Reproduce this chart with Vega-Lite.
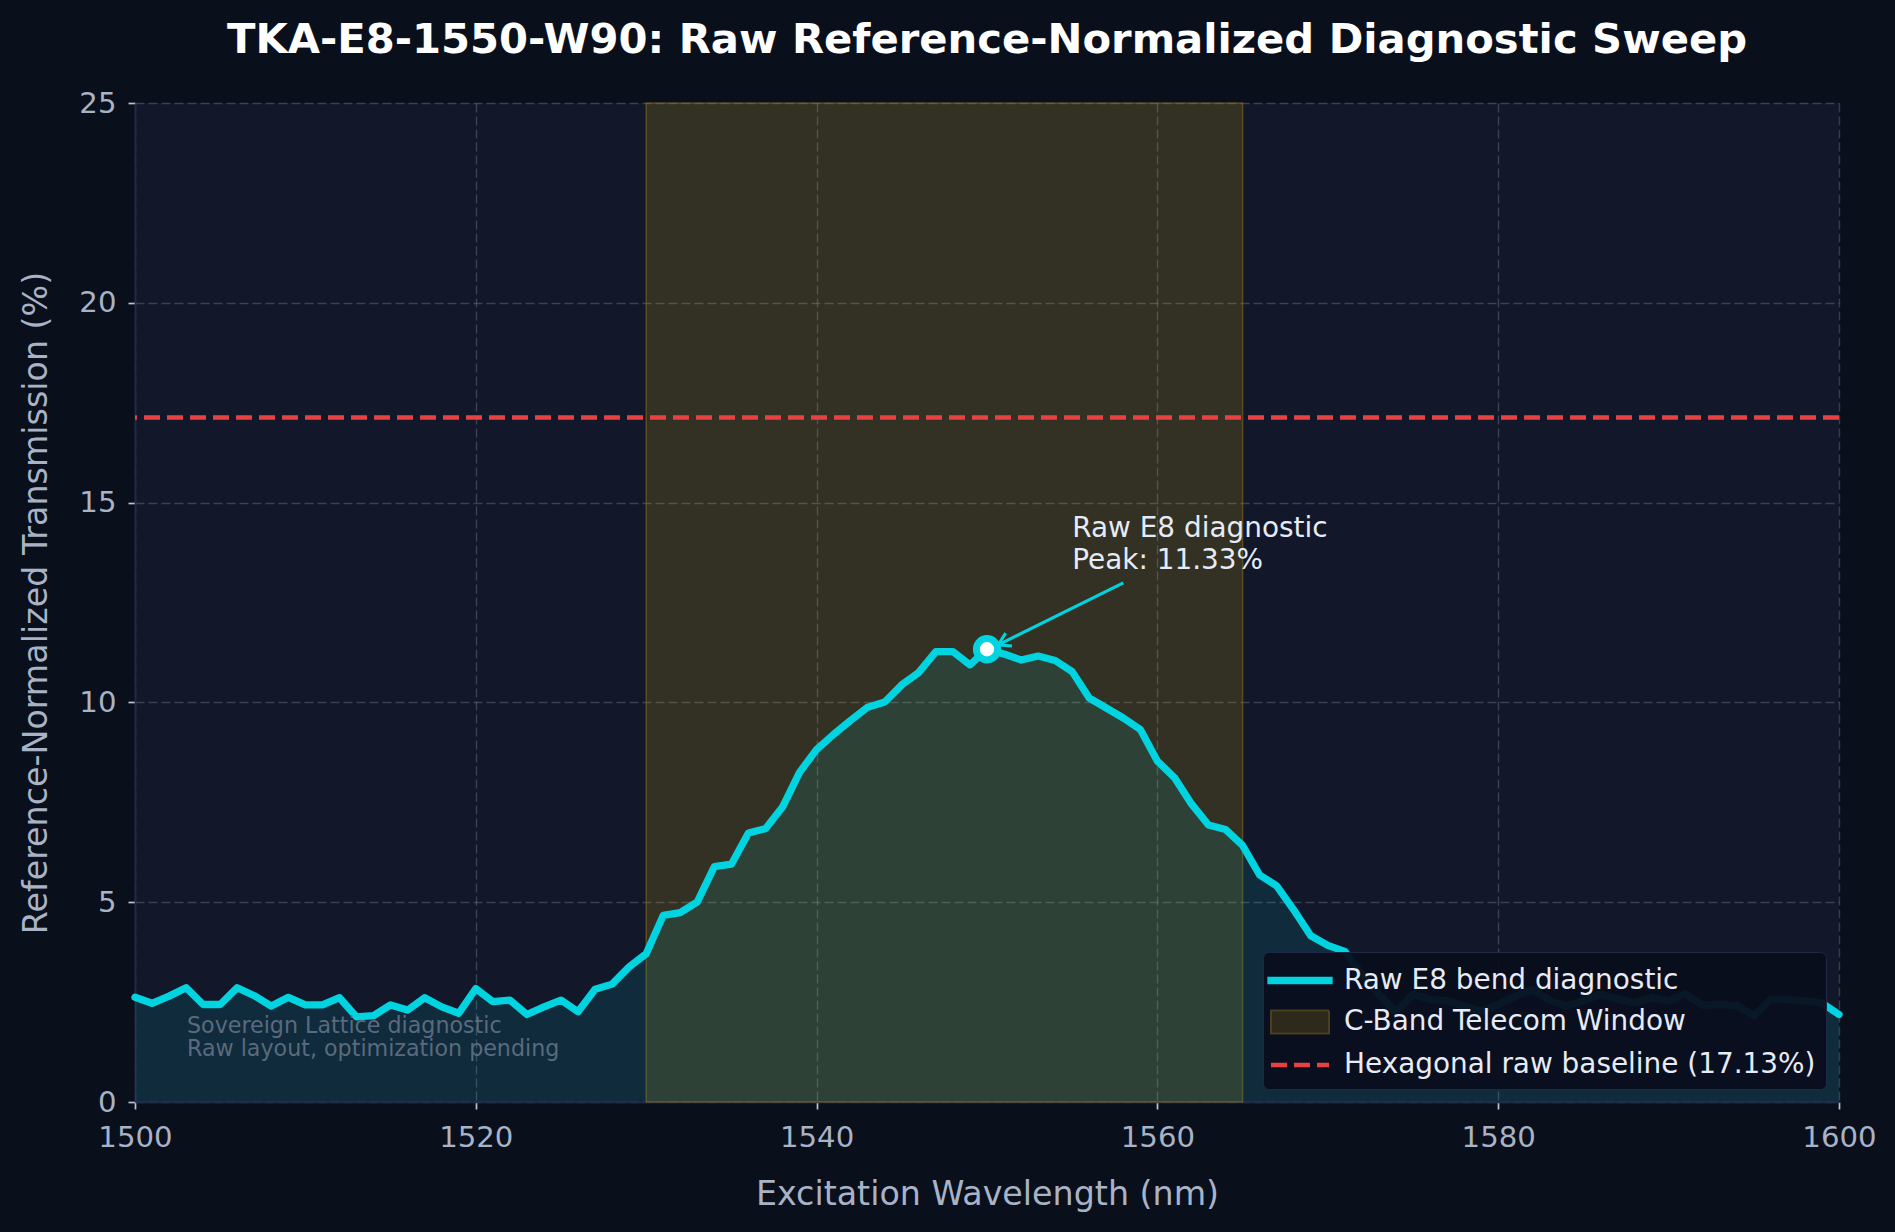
{
  "$schema": "https://vega.github.io/schema/vega-lite/v6.json",
  "width": 1704,
  "height": 999,
  "autosize": {"type": "none"},
  "padding": {"left": 135, "top": 103, "right": 56, "bottom": 130},
  "background": "#0a0f1c",
  "view": {"fill": "#121829", "stroke": null},
  "title": {"text": "TKA-E8-1550-W90: Raw Reference-Normalized Diagnostic Sweep", "font": "DejaVu Sans", "fontSize": 41.7, "fontWeight": "bold", "color": "#ffffff", "offset": 27.5, "anchor": "middle"},
  "config": {
    "font": "DejaVu Sans",
    "view": {"fill": "#121829", "stroke": null},
    "axis": {
      "labelFont": "DejaVu Sans", "labelFontSize": 29.2, "labelColor": "#a9b3c6",
      "titleFont": "DejaVu Sans", "titleFontSize": 33.3, "titleColor": "#a9b3c6", "titleFontWeight": "normal",
      "tickColor": "#b9c2d4", "tickSize": 7, "tickWidth": 1.7,
      "domainColor": "#1f2b48", "domainWidth": 1.7,
      "gridColor": "#8892a6", "gridOpacity": 0.35, "gridDash": [9, 4], "gridWidth": 1.4,
      "labelFlush": false, "labelOverlap": false
    },
    "axisX": {"labelPadding": 14, "titleBaseline": "alphabetic", "titleY": 102},
    "axisY": {"labelPadding": 12, "titleBaseline": "alphabetic", "titleX": -89, "titleY": 499.5},
    "legend": {
      "orient": "bottom-right",
      "offset": 13,
      "padding": 10,
      "fillColor": "rgba(10,14,28,0.95)",
      "strokeColor": "#1e2a45",
      "cornerRadius": 6,
      "labelFont": "DejaVu Sans",
      "labelFontSize": 27.9,
      "labelColor": "#e6ebf5",
      "labelOffset": 25.5,
      "labelLimit": 700,
      "rowPadding": 9.5,
      "symbolSize": 841,
      "symbolOffset": 8.5,
      "symbolOpacity": 1
    }
  },
  "datasets": {
    "sweep": [
      {"wl": 1500, "val": 2.62}, {"wl": 1501, "val": 2.47}, {"wl": 1502, "val": 2.65}, {"wl": 1503, "val": 2.86},
      {"wl": 1504, "val": 2.44}, {"wl": 1505, "val": 2.44}, {"wl": 1506, "val": 2.86}, {"wl": 1507, "val": 2.66},
      {"wl": 1508, "val": 2.40}, {"wl": 1509, "val": 2.62}, {"wl": 1510, "val": 2.43}, {"wl": 1511, "val": 2.43},
      {"wl": 1512, "val": 2.61}, {"wl": 1513, "val": 2.13}, {"wl": 1514, "val": 2.16}, {"wl": 1515, "val": 2.43},
      {"wl": 1516, "val": 2.30}, {"wl": 1517, "val": 2.61}, {"wl": 1518, "val": 2.38}, {"wl": 1519, "val": 2.22},
      {"wl": 1520, "val": 2.84}, {"wl": 1521, "val": 2.51}, {"wl": 1522, "val": 2.55}, {"wl": 1523, "val": 2.19},
      {"wl": 1524, "val": 2.38}, {"wl": 1525, "val": 2.55}, {"wl": 1526, "val": 2.26}, {"wl": 1527, "val": 2.82},
      {"wl": 1528, "val": 2.95}, {"wl": 1529, "val": 3.38}, {"wl": 1530, "val": 3.71}, {"wl": 1531, "val": 4.67},
      {"wl": 1532, "val": 4.74}, {"wl": 1533, "val": 5.01}, {"wl": 1534, "val": 5.89}, {"wl": 1535, "val": 5.95},
      {"wl": 1536, "val": 6.73}, {"wl": 1537, "val": 6.84}, {"wl": 1538, "val": 7.38}, {"wl": 1539, "val": 8.25},
      {"wl": 1540, "val": 8.82}, {"wl": 1541, "val": 9.20}, {"wl": 1542, "val": 9.55}, {"wl": 1543, "val": 9.88},
      {"wl": 1544, "val": 10.01}, {"wl": 1545, "val": 10.44}, {"wl": 1546, "val": 10.75}, {"wl": 1547, "val": 11.27},
      {"wl": 1548, "val": 11.27}, {"wl": 1549, "val": 10.94}, {"wl": 1550, "val": 11.33}, {"wl": 1551, "val": 11.21},
      {"wl": 1552, "val": 11.06}, {"wl": 1553, "val": 11.16}, {"wl": 1554, "val": 11.05}, {"wl": 1555, "val": 10.77},
      {"wl": 1556, "val": 10.11}, {"wl": 1557, "val": 9.86}, {"wl": 1558, "val": 9.61}, {"wl": 1559, "val": 9.32},
      {"wl": 1560, "val": 8.53}, {"wl": 1561, "val": 8.12}, {"wl": 1562, "val": 7.46}, {"wl": 1563, "val": 6.93},
      {"wl": 1564, "val": 6.82}, {"wl": 1565, "val": 6.42}, {"wl": 1566, "val": 5.68}, {"wl": 1567, "val": 5.41},
      {"wl": 1568, "val": 4.81}, {"wl": 1569, "val": 4.16}, {"wl": 1570, "val": 3.92}, {"wl": 1571, "val": 3.77},
      {"wl": 1572, "val": 3.20}, {"wl": 1573, "val": 2.69}, {"wl": 1574, "val": 2.25}, {"wl": 1575, "val": 2.69},
      {"wl": 1576, "val": 2.57}, {"wl": 1577, "val": 2.53}, {"wl": 1578, "val": 2.40}, {"wl": 1579, "val": 2.27},
      {"wl": 1580, "val": 2.44}, {"wl": 1581, "val": 2.65}, {"wl": 1582, "val": 2.82}, {"wl": 1583, "val": 2.55},
      {"wl": 1584, "val": 2.40}, {"wl": 1585, "val": 2.53}, {"wl": 1586, "val": 2.69}, {"wl": 1587, "val": 2.58},
      {"wl": 1588, "val": 2.48}, {"wl": 1589, "val": 2.61}, {"wl": 1590, "val": 2.53}, {"wl": 1591, "val": 2.71},
      {"wl": 1592, "val": 2.42}, {"wl": 1593, "val": 2.44}, {"wl": 1594, "val": 2.42}, {"wl": 1595, "val": 2.16},
      {"wl": 1596, "val": 2.57}, {"wl": 1597, "val": 2.57}, {"wl": 1598, "val": 2.53}, {"wl": 1599, "val": 2.48},
      {"wl": 1600, "val": 2.19}
    ]
  },
  "layer": [
    {
      "data": {"values": [{"wl": 1530, "wl_end": 1565}]},
      "mark": {"type": "rect", "fill": "#f0b90b", "fillOpacity": 0.15, "stroke": "#8a6d1c", "strokeOpacity": 0.55, "strokeWidth": 1.5},
      "encoding": {
        "x": {"field": "wl", "type": "quantitative", "scale": {"domain": [1500, 1600], "nice": false, "zero": false}, "axis": {"values": [1500, 1520, 1540, 1560, 1580, 1600], "format": "d"}, "title": "Excitation Wavelength (nm)"},
        "x2": {"field": "wl_end"}
      }
    },
    {
      "data": {"name": "sweep"},
      "mark": {"type": "area", "color": "#00d4e0", "fillOpacity": 0.1},
      "encoding": {
        "x": {"field": "wl", "type": "quantitative", "title": "Excitation Wavelength (nm)"},
        "y": {"field": "val", "type": "quantitative", "scale": {"domain": [0, 25], "nice": false}, "axis": {"values": [0, 5, 10, 15, 20, 25]}, "title": "Reference-Normalized Transmission (%)"}
      }
    },
    {
      "data": {"values": [{"base": 17.13}]},
      "mark": {"type": "rule", "color": "#e84142", "strokeWidth": 4.6, "strokeDash": [16, 7]},
      "encoding": {
        "y": {"field": "base", "type": "quantitative", "title": "Reference-Normalized Transmission (%)"}
      }
    },
    {
      "data": {"name": "sweep"},
      "mark": {"type": "line", "color": "#00d4e0", "strokeWidth": 7.3, "strokeJoin": "round", "strokeCap": "round"},
      "encoding": {
        "x": {"field": "wl", "type": "quantitative", "title": "Excitation Wavelength (nm)"},
        "y": {"field": "val", "type": "quantitative", "title": "Reference-Normalized Transmission (%)"}
      }
    },
    {
      "data": {"values": [{"x1": 1558.0, "y1": 12.99, "x2": 1550.65, "y2": 11.44}]},
      "mark": {"type": "rule", "color": "#00d4e0", "strokeWidth": 3},
      "encoding": {
        "x": {"field": "x1", "type": "quantitative", "title": "Excitation Wavelength (nm)"},
        "y": {"field": "y1", "type": "quantitative", "title": "Reference-Normalized Transmission (%)"},
        "x2": {"field": "x2"},
        "y2": {"field": "y2"}
      }
    },
    {
      "data": {"values": [{"x": 1550.65, "y": 11.44}]},
      "mark": {"type": "point", "shape": "M-1,-0.6L0,0L-1,0.6", "angle": 153.8, "size": 576, "filled": false, "stroke": "#00d4e0", "strokeWidth": 3, "opacity": 1},
      "encoding": {
        "x": {"field": "x", "type": "quantitative", "title": "Excitation Wavelength (nm)"},
        "y": {"field": "y", "type": "quantitative", "title": "Reference-Normalized Transmission (%)"}
      }
    },
    {
      "data": {"values": [{"wl": 1550, "val": 11.33}]},
      "mark": {"type": "point", "shape": "circle", "size": 452, "filled": true, "fill": "#ffffff", "stroke": "#00d4e0", "strokeWidth": 7, "opacity": 1},
      "encoding": {
        "x": {"field": "wl", "type": "quantitative", "title": "Excitation Wavelength (nm)"},
        "y": {"field": "val", "type": "quantitative", "title": "Reference-Normalized Transmission (%)"}
      }
    },
    {
      "data": {"values": [{"wl": 1555, "val": 14.15, "t": "Raw E8 diagnostic"}, {"wl": 1555, "val": 13.33, "t": "Peak: 11.33%"}]},
      "mark": {"type": "text", "align": "left", "baseline": "alphabetic", "font": "DejaVu Sans", "fontSize": 27.9, "color": "#e6ebf5"},
      "encoding": {
        "x": {"field": "wl", "type": "quantitative", "title": "Excitation Wavelength (nm)"},
        "y": {"field": "val", "type": "quantitative", "title": "Reference-Normalized Transmission (%)"},
        "text": {"field": "t"}
      }
    },
    {
      "data": {"values": [{"wl": 1503.05, "val": 1.73, "t": "Sovereign Lattice diagnostic"}, {"wl": 1503.05, "val": 1.16, "t": "Raw layout, optimization pending"}]},
      "mark": {"type": "text", "align": "left", "baseline": "alphabetic", "font": "DejaVu Sans", "fontSize": 22.2, "color": "#5a6a7e"},
      "encoding": {
        "x": {"field": "wl", "type": "quantitative", "title": "Excitation Wavelength (nm)"},
        "y": {"field": "val", "type": "quantitative", "title": "Reference-Normalized Transmission (%)"},
        "text": {"field": "t"}
      }
    },
    {
      "data": {"values": [{"k": "Raw E8 bend diagnostic"}, {"k": "C-Band Telecom Window"}, {"k": "Hexagonal raw baseline (17.13%)"}]},
      "mark": {"type": "point", "opacity": 0},
      "encoding": {
        "fill": {"field": "k", "type": "nominal", "scale": {"domain": ["Raw E8 bend diagnostic", "C-Band Telecom Window", "Hexagonal raw baseline (17.13%)"], "range": ["transparent", "#2e2a1b", "transparent"]}, "legend": {"title": null}},
        "stroke": {"field": "k", "type": "nominal", "scale": {"domain": ["Raw E8 bend diagnostic", "C-Band Telecom Window", "Hexagonal raw baseline (17.13%)"], "range": ["#00d4e0", "#4a3f1f", "#e84142"]}, "legend": {"title": null}},
        "shape": {"field": "k", "type": "nominal", "scale": {"domain": ["Raw E8 bend diagnostic", "C-Band Telecom Window", "Hexagonal raw baseline (17.13%)"], "range": ["M-2.25,0H2.25", "M-2,-0.8H2V0.8H-2Z", "M-2,0H2"]}, "legend": {"title": null}},
        "strokeDash": {"field": "k", "type": "nominal", "scale": {"domain": ["Raw E8 bend diagnostic", "C-Band Telecom Window", "Hexagonal raw baseline (17.13%)"], "range": [[1, 0], [1, 0], [16, 7]]}, "legend": {"title": null}},
        "strokeWidth": {"field": "k", "type": "nominal", "scale": {"type": "ordinal", "domain": ["Raw E8 bend diagnostic", "C-Band Telecom Window", "Hexagonal raw baseline (17.13%)"], "range": [7.3, 2, 4.6]}, "legend": {"title": null}}
      }
    }
  ]
}
